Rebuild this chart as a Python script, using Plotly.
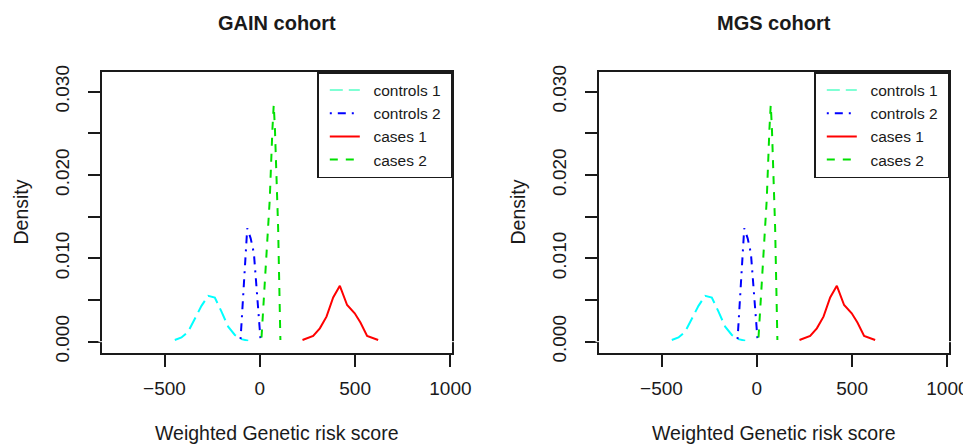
import plotly.graph_objects as go

W, H = 971, 445
OFF = 8  # the page body adds an 8px margin round the figure
FW, FH = W - OFF, H - OFF

# density curves (the two cohorts show the same curves)
controls1_x = [-446, -411, -376, -341, -306, -271, -236, -201, -166, -131, -96, -61]
controls1_y = [0.0002, 0.0005, 0.0012, 0.0027, 0.0043, 0.0055, 0.0053, 0.0036, 0.0018, 0.0008, 0.0003, 0.0001]
controls2_x = [-101, -66, -48, -31, 4]
controls2_y = [0.0003, 0.0136, 0.0124, 0.0106, 0.0002]
cases1_x = [224, 280, 315, 350, 385, 420, 458, 498, 528, 563, 621]
cases1_y = [0.0002, 0.0007, 0.0016, 0.0030, 0.0053, 0.0067, 0.0044, 0.0034, 0.0023, 0.0007, 0.0002]
cases2_x = [9, 35, 52, 66, 73, 79, 96, 108]
cases2_y = [0.0005, 0.0098, 0.0170, 0.0254, 0.0284, 0.0258, 0.0138, 0.0002]

cohorts = ["GAIN cohort", "MGS cohort"]
series_names = ["controls 1", "controls 2", "cases 1", "cases 2"]
x_ticks = [-500, 0, 500, 1000]
y_ticks = [0, 0.005, 0.01, 0.015, 0.02, 0.025, 0.03]
y_tick_labels = ["0.000", "", "0.010", "", "0.020", "", "0.030"]

series = [
    (controls1_x, controls1_y),
    (controls2_x, controls2_y),
    (cases1_x, cases1_y),
    (cases2_x, cases2_y),
]

# styles (R: cyan/longdash, blue/dotdash, red/solid, green/dashed)
curve_colors = ["#00FFFF", "#0000FF", "#FF0000", "#00E000"]
legend_colors = ["#7FFFD4", "#0000FF", "#FF0000", "#00E000"]
dashes = ["13px,6px", "2px,6px,8px,6px", "solid", "8px,8px"]

FONT = "Liberation Sans, Arial, Helvetica, sans-serif"
INK = "#1a1a1a"
NBSP = "\u00a0"


def px(x):
    # page pixel -> paper x
    return (x - OFF) / FW


def py(y):
    # page pixel -> paper y
    return 1 - (y - OFF) / FH


# plot boxes in page pixels (left, right), shared top/bottom
boxes = [(102, 452.3), (599, 949.3)]
top, bottom = 72, 353

fig = go.Figure()

for i, cohort in enumerate(cohorts):
    sfx = "" if i == 0 else str(i + 1)
    leg = "legend" + sfx
    for k, name in enumerate(series_names):
        xs, ys = series[k]
        fig.add_trace(go.Scatter(
            x=xs, y=ys, mode="lines", showlegend=False,
            line=dict(color=curve_colors[k], width=2, dash=dashes[k]),
            xaxis="x" + sfx, yaxis="y" + sfx, hoverinfo="skip",
        ))
    # legend entries (legend colour of "controls 1" differs from its curve)
    for k, name in enumerate(series_names):
        fig.add_trace(go.Scatter(
            x=[None], y=[None], mode="lines", name=NBSP * 2 + name + NBSP,
            line=dict(color=legend_colors[k], width=2, dash=dashes[k]),
            xaxis="x" + sfx, yaxis="y" + sfx, legend=leg,
        ))

    left, right = boxes[i]
    axis_common = dict(
        showline=True, mirror=True, linecolor=INK, linewidth=1.5,
        ticks="outside", ticklen=12, tickwidth=1.5, tickcolor=INK,
        showgrid=False, zeroline=False, automargin=False,
        tickfont=dict(family=FONT, size=19, color=INK),
    )
    fig.update_layout({
        "xaxis" + sfx: dict(
            domain=[px(left), px(right)], range=[-828, 1010],
            tickvals=x_ticks, anchor="y" + sfx, ticklabelstandoff=5,
            **axis_common,
        ),
        "yaxis" + sfx: dict(
            domain=[py(bottom), py(top)], range=[-0.00136, 0.03236],
            tickvals=y_ticks, ticktext=y_tick_labels, tickangle=-90,
            anchor="x" + sfx, ticklabelstandoff=12,
            **axis_common,
        ),
        leg: dict(
            x=px(right), xanchor="right", y=py(top), yanchor="top",
            bgcolor="white", bordercolor=INK, borderwidth=1.5,
            font=dict(family=FONT, size=15.5, color=INK),
            indentation=6, tracegroupgap=0, traceorder="normal",
        ),
    })

    mid = px((left + right) / 2)
    fig.add_annotation(
        text="<b>" + cohort + "</b>", x=mid, y=py(23), xref="paper", yref="paper",
        xanchor="center", yanchor="middle", showarrow=False,
        font=dict(family=FONT, size=20, color=INK),
    )
    fig.add_annotation(
        text="Weighted Genetic risk score", x=mid, y=py(433), xref="paper", yref="paper",
        xanchor="center", yanchor="middle", showarrow=False,
        font=dict(family=FONT, size=19.5, color=INK),
    )
    fig.add_annotation(
        text="Density", x=px(left - 82), y=py((top + bottom) / 2),
        xref="paper", yref="paper", textangle=-90,
        xanchor="center", yanchor="middle", showarrow=False,
        font=dict(family=FONT, size=19.5, color=INK),
    )
    # thin white line at density 0, as in the original figure
    fig.add_shape(
        type="line", xref="x" + sfx + " domain", yref="y" + sfx,
        x0=-0.01, x1=1.01, y0=0, y1=0,
        line=dict(color="white", width=1), layer="above",
    )

fig.update_layout(
    width=FW, height=FH,
    margin=dict(l=0, r=0, t=0, b=0),
    paper_bgcolor="white", plot_bgcolor="white",
    font=dict(family=FONT, color=INK),
)

fig.write_html("out.html")
